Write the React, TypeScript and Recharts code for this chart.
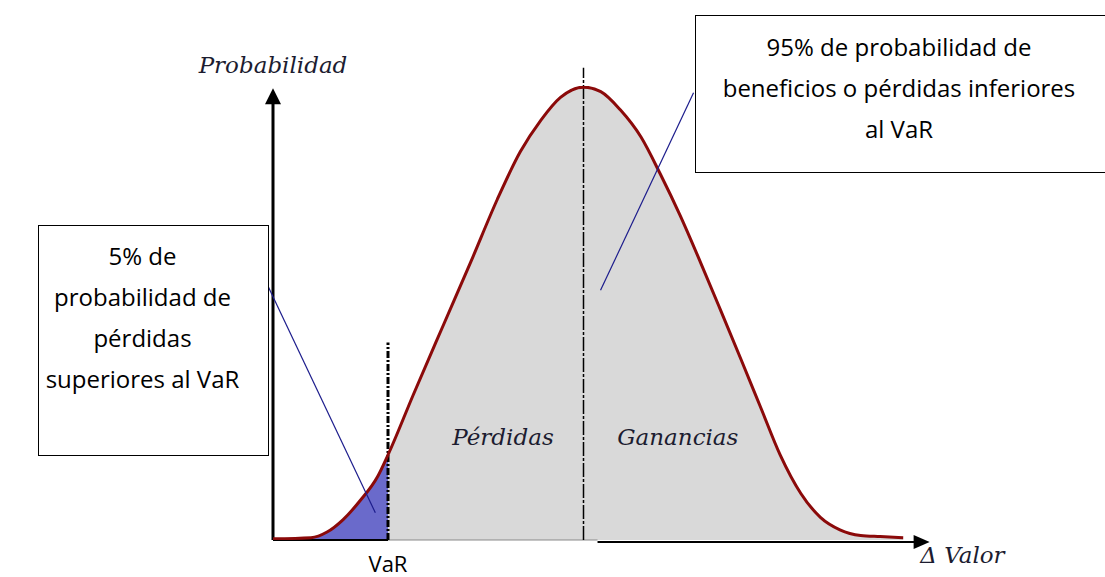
import {
  ComposedChart,
  Area,
  Line,
  XAxis,
  YAxis,
  ReferenceLine,
  ReferenceDot,
} from "recharts";

// Δ Valor, in standard deviations from the mean
const valor = [
  -2.7, -2.37, -2.23, -2.09, -1.94, -1.79, -1.7, -1.48, -1.22, -0.98, -0.75,
  -0.55, -0.37, -0.2, 0, 0.15, 0.32, 0.5, 0.67, 0.84, 1.02, 1.19, 1.37, 1.54,
  1.71, 1.89, 2.06, 2.23, 2.41, 2.58, 2.78,
];
// probabilidad (density)
const probabilidad = [
  0.001, 0.002, 0.007, 0.018, 0.035, 0.056, 0.075, 0.128, 0.189, 0.245, 0.3,
  0.342, 0.37, 0.39, 0.399, 0.395, 0.379, 0.355, 0.322, 0.286, 0.244, 0.203,
  0.159, 0.117, 0.075, 0.041, 0.02, 0.009, 0.004, 0.003, 0.002,
];
const VAR = -1.7;
const MEDIA = 0;

const data = valor.map((x, i) => ({
  x,
  curva: probabilidad[i],
  cola: x <= VAR ? probabilidad[i] : null,
  cuerpo: x >= VAR ? probabilidad[i] : null,
}));

const serif = "'DejaVu Serif', serif";
const sans = "'Open Sans', sans-serif";

const textShape =
  (txt: string, dx: number, dy: number, anchor: string, font: string, size: number, italic = true) =>
  (p: any) =>
    (
      <text
        x={p.cx + dx}
        y={p.cy + dy}
        textAnchor={anchor}
        fontFamily={font}
        fontSize={size}
        fontStyle={italic ? "italic" : "normal"}
        fill={italic ? "#1c1c30" : "#000"}
      >
        {txt}
      </text>
    );

const arrowRight = (p: any) => (
  <polygon
    points={`${p.cx},${p.cy} ${p.cx - 16},${p.cy - 7} ${p.cx - 16},${p.cy + 7}`}
    fill="#000"
  />
);
const arrowUp = (p: any) => (
  <polygon
    points={`${p.cx},${p.cy} ${p.cx - 8},${p.cy + 16} ${p.cx + 8},${p.cy + 16}`}
    fill="#000"
  />
);

const boxStyle: React.CSSProperties = {
  position: "absolute",
  boxSizing: "border-box",
  border: "1.5px solid #000",
  background: "#fff",
  fontFamily: sans,
  fontSize: 24,
  lineHeight: "41px",
  textAlign: "center",
  color: "#000",
  whiteSpace: "nowrap",
};

export default function App() {
  return (
    <div
      style={{
        position: "absolute",
        left: 0,
        top: 0,
        width: 1105,
        height: 577,
        overflow: "hidden",
        background: "#fff",
      }}
    >
      <ComposedChart
        width={1105}
        height={577}
        data={data}
        margin={{ top: 86, right: 170.75, left: 273, bottom: 37 }}
      >
        <XAxis
          dataKey="x"
          type="number"
          domain={[-2.7, 3.05]}
          allowDataOverflow
          hide
        />
        <YAxis type="number" domain={[0, 0.4]} allowDataOverflow hide />
        <Area
          dataKey="cuerpo"
          type="monotone"
          fill="#d9d9d9"
          fillOpacity={1}
          stroke="none"
          isAnimationActive={false}
        />
        <Area
          dataKey="cola"
          type="monotone"
          fill="#6a6acb"
          fillOpacity={1}
          stroke="none"
          isAnimationActive={false}
        />
        {/* axes */}
        <ReferenceLine
          segment={[{ x: -2.7, y: 0 }, { x: VAR, y: 0 }]}
          stroke="#000"
          strokeWidth={2}
          ifOverflow="visible"
        />
        <ReferenceLine
          segment={[{ x: VAR, y: 0 }, { x: 0.122, y: 0 }]}
          stroke="#8a8a8a"
          strokeWidth={1.2}
          ifOverflow="visible"
        />
        <ReferenceLine
          segment={[{ x: 0.122, y: -0.0018 }, { x: 2.93, y: -0.0018 }]}
          stroke="#000"
          strokeWidth={2}
          ifOverflow="visible"
        />
        <ReferenceLine
          segment={[{ x: -2.7, y: 0 }, { x: -2.7, y: 0.385 }]}
          stroke="#000"
          strokeWidth={3}
          ifOverflow="visible"
        />
        <ReferenceDot x={3.01} y={-0.0018} r={0} ifOverflow="visible" shape={arrowRight} />
        <ReferenceDot x={-2.7} y={0.398} r={0} ifOverflow="visible" shape={arrowUp} />
        {/* mean and VaR */}
        <ReferenceLine
          segment={[{ x: MEDIA, y: 0 }, { x: MEDIA, y: 0.416 }]}
          stroke="#000"
          strokeWidth={1.5}
          strokeDasharray="14 2 3 2"
          ifOverflow="visible"
        />
        <ReferenceLine
          segment={[{ x: VAR, y: 0 }, { x: VAR, y: 0.174 }]}
          stroke="#000"
          strokeWidth={3}
          strokeDasharray="7 2 2 2"
          ifOverflow="visible"
        />
        <Line
          dataKey="curva"
          type="monotone"
          stroke="#8b0a0a"
          strokeWidth={3}
          dot={false}
          isAnimationActive={false}
        />
        {/* leader lines */}
        <ReferenceLine
          segment={[{ x: -2.74, y: 0.223 }, { x: -1.81, y: 0.024 }]}
          stroke="#1c1c8c"
          strokeWidth={1.2}
          ifOverflow="visible"
        />
        <ReferenceLine
          segment={[{ x: 0.957, y: 0.394 }, { x: 0.148, y: 0.22 }]}
          stroke="#1c1c8c"
          strokeWidth={1.2}
          ifOverflow="visible"
        />
        {/* labels */}
        <ReferenceDot x={-2.7} y={0.4} r={0} ifOverflow="visible" shape={textShape("Probabilidad", 0, -13, "middle", serif, 23)} />
        <ReferenceDot x={3.05} y={0} r={0} ifOverflow="visible" shape={textShape("Δ Valor", -14, 23, "start", serif, 23)} />
        <ReferenceDot x={-0.7} y={0} r={0} ifOverflow="visible" shape={textShape("Pérdidas", 0, -95, "middle", serif, 23)} />
        <ReferenceDot x={0.82} y={0} r={0} ifOverflow="visible" shape={textShape("Ganancias", 0, -95, "middle", serif, 23)} />
        <ReferenceDot x={VAR} y={0} r={0} ifOverflow="visible" shape={textShape("VaR", 0, 32, "middle", sans, 22, false)} />
      </ComposedChart>
      <div style={{ ...boxStyle, left: 38, top: 225, width: 231, height: 231, paddingTop: 9, paddingRight: 22 }}>
        5% de
        <br />
        probabilidad de
        <br />
        pérdidas
        <br />
        superiores al VaR
      </div>
      <div style={{ ...boxStyle, left: 695, top: 15, width: 412, height: 158, paddingTop: 10, paddingRight: 4 }}>
        95% de probabilidad de
        <br />
        beneficios o pérdidas inferiores
        <br />
        al VaR
      </div>
    </div>
  );
}
